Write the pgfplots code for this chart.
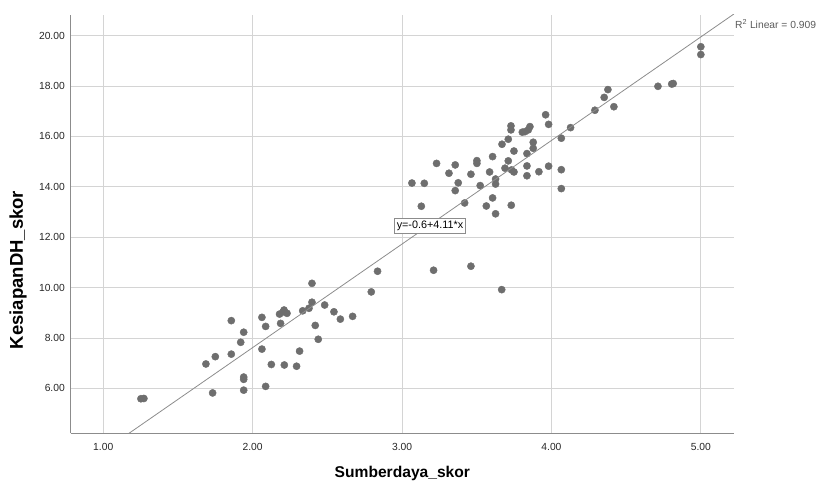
\documentclass[border=0pt]{standalone}
\usepackage{pgfplots}
\pgfplotsset{compat=1.18}
\usepackage{fontspec}
\setmainfont{Liberation Sans}
\definecolor{gridc}{RGB}{212,212,212}
\definecolor{axc}{RGB}{140,140,140}
\definecolor{ptc}{RGB}{110,110,110}
\definecolor{fitc}{RGB}{140,140,140}
\definecolor{rtext}{RGB}{90,90,90}
\begin{document}
\begin{tikzpicture}
\path[use as bounding box] (-70.7pt,-52pt) rectangle (747.3pt,433pt);
\begin{axis}[
  at={(0,0)}, anchor=south west,
  scale only axis, width=663.3pt, height=418pt,
  xmin=0.782, xmax=5.222, ymin=4.23, ymax=20.82,
  axis x line*=bottom, axis y line*=left,
  axis line style={draw=axc, line width=0.9pt, -},
  xtick={1,2,3,4,5}, ytick={6,8,10,12,14,16,18,20},
  major tick length=0pt,
  grid=major, major grid style={draw=gridc, line width=0.9pt},
  /pgf/number format/.cd, fixed, fixed zerofill, precision=2, assume math mode=true,
  /pgfplots/.cd,
  tick label style={font=\fontsize{10.3}{12}\selectfont, text=black!85},
  xticklabel style={anchor=center, yshift=-14pt},
  yticklabel style={anchor=east, inner sep=0pt, xshift=-5.7pt},
  xlabel={Sumberdaya\_skor}, ylabel={KesiapanDH\_skor},
  xlabel style={font=\fontsize{15.6}{17}\bfseries\selectfont, at={([yshift=-40pt]axis description cs:0.5,0)}, anchor=center},
  ylabel style={font=\fontsize{18.5}{20}\bfseries\selectfont, at={([xshift=-52.5pt]axis description cs:0,0.39)}, anchor=center},
  clip mode=individual,
]
\addplot[only marks, mark=*, mark size=3.6pt, mark options={fill=ptc, draw=ptc}] coordinates {
(5.00,19.56) (5.00,19.25) (4.713,17.99) (4.805,18.08) (4.815,18.10)
(4.378,17.86) (4.353,17.55) (4.418,17.18) (4.291,17.04) (4.128,16.35)
(4.066,15.93) (3.961,16.86) (3.981,16.48) (3.856,16.39) (3.845,16.26)
(3.823,16.19) (3.805,16.17) (3.878,15.77) (3.878,15.53) (3.836,15.32)
(3.836,14.83) (3.836,14.44) (3.916,14.60) (3.981,14.82) (4.066,14.68)
(4.066,13.93) (3.729,16.42) (3.729,16.26) (3.711,15.89) (3.669,15.69)
(3.749,15.42) (3.606,15.20) (3.711,15.03) (3.501,15.04) (3.501,14.93)
(3.231,14.93) (3.356,14.87) (3.314,14.54) (3.461,14.50) (3.586,14.59)
(3.689,14.74) (3.733,14.67) (3.749,14.59) (3.066,14.15) (3.149,14.14)
(3.376,14.16) (3.356,13.85) (3.626,14.31) (3.626,14.11) (3.523,14.05)
(3.419,13.36) (3.606,13.56) (3.564,13.24) (3.626,12.93) (3.731,13.27)
(3.129,13.23) (3.211,10.69) (3.461,10.85) (3.667,9.92)
(1.252,5.59) (1.272,5.60) (1.732,5.82) (1.687,6.97) (1.750,7.26)
(1.857,7.36) (1.857,8.69) (1.920,7.83) (1.940,8.23) (1.940,6.45)
(1.940,6.36) (1.940,5.93) (2.062,8.82) (2.087,8.46) (2.062,7.56)
(2.087,6.08) (2.125,6.95) (2.212,6.93) (2.294,6.88) (2.314,7.48)
(2.187,8.58) (2.180,8.95) (2.205,9.04) (2.210,9.11) (2.230,8.98)
(2.335,9.08) (2.377,9.18) (2.397,9.42) (2.397,10.17) (2.419,8.50)
(2.439,7.95) (2.482,9.31) (2.544,9.04) (2.587,8.75) (2.669,8.86)
(2.794,9.83) (2.836,10.65)
};
\addplot[draw=fitc, line width=0.8pt] coordinates {(1.0,3.51) (5.222,20.8624)};
\node[draw=axc, fill=white, inner sep=2.2pt, line width=0.7pt, font=\fontsize{10.8}{12}\selectfont] at (axis cs:3.187,12.45) {y=-0.6+4.11*x};
\node[anchor=west, inner sep=0pt, xshift=1pt, text=rtext, font=\fontsize{10.3}{12}\selectfont] at (rel axis cs:1,0.978) {R\textsuperscript{2} Linear = 0.909};
\end{axis}
\end{tikzpicture}
\end{document}
